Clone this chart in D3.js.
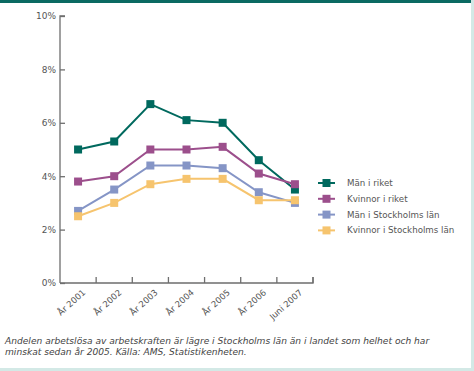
<!DOCTYPE html>
<html>
<head>
<meta charset="utf-8">
<script src="https://cdn.jsdelivr.net/npm/d3@7/dist/d3.min.js"></script>
<style>
body { margin: 0; background: #fff; }
svg { display: block; font-family: "DejaVu Sans", Verdana, sans-serif; }
</style>
</head>
<body>
<div id="chart"></div>
<script>
// data
const years = ["År 2001", "År 2002", "År 2003", "År 2004", "År 2005", "År 2006", "Juni 2007"]
const manRiket = [5.0, 5.3, 6.7, 6.1, 6.0, 4.6, 3.5]
const kvinnorRiket = [3.8, 4.0, 5.0, 5.0, 5.1, 4.1, 3.7]
const manSthlm = [2.7, 3.5, 4.4, 4.4, 4.3, 3.4, 3.0]
const kvinnorSthlm = [2.5, 3.0, 3.7, 3.9, 3.9, 3.1, 3.1]
const seriesNames = ["Män i riket", "Kvinnor i riket", "Män i Stockholms län", "Kvinnor i Stockholms län"]
const yTicks = [0, 2, 4, 6, 8, 10]
const caption = [
  "Andelen arbetslösa av arbetskraften är lägre i Stockholms län än i landet som helhet och har",
  "minskat sedan år 2005. Källa: AMS, Statistikenheten."
]

const colors = ["#00695e", "#9c4f8c", "#8595c6", "#f6c46e"]
const series = [manRiket, kvinnorRiket, manSthlm, kvinnorSthlm]

const width = 474
const height = 371
const margin = { top: 16, left: 60, right: 161, bottom: 88 }

const svg = d3.select("#chart")
  .append("svg")
    .attr("width", width)
    .attr("height", height)

// frame
svg.append("rect").attr("x", 0).attr("y", 0).attr("width", width).attr("height", 3).attr("fill", "#0b6a62")
svg.append("rect").attr("x", 471).attr("y", 0).attr("width", 3).attr("height", height).attr("fill", "#d3e9e6")
svg.append("rect").attr("x", 0).attr("y", 368).attr("width", width).attr("height", 3).attr("fill", "#d3e9e6")

const x = d3.scaleBand()
  .domain(years)
  .range([margin.left, width - margin.right])

const y = d3.scaleLinear()
  .domain([0, 10])
  .range([height - margin.bottom, margin.top])

// axes
const xAxis = d3.axisBottom(x).tickSize(6).tickFormat("")
const yAxis = d3.axisLeft(y).tickValues(yTicks).tickSize(5).tickFormat(d => d + "%")

const xAxisGroup = svg.append("g")
  .attr("transform", `translate(0, ${height - margin.bottom})`)
  .call(xAxis)
xAxisGroup.select(".domain").attr("d", `M${margin.left},0H${width - margin.right}V-6`)
xAxisGroup.selectAll(".tick line")
  .attr("y2", -6)
  .attr("transform", `translate(${x.bandwidth() / 2},0)`)

const yAxisGroup = svg.append("g")
  .attr("transform", `translate(${margin.left}, 0)`)
  .call(yAxis)
yAxisGroup.selectAll(".tick line").attr("x2", 5)
yAxisGroup.select(".domain").attr("d", `M5,${y(10)}H0V${y(0)}`)
yAxisGroup.selectAll(".tick text").attr("x", -4)

svg.selectAll(".domain, .tick line").attr("stroke", "#6e6e6e").attr("stroke-width", 1.3)
svg.selectAll(".tick text").attr("fill", "#555").attr("font-size", 9).attr("font-family", "DejaVu Sans, Verdana, sans-serif")

// rotated x labels
svg.append("g").selectAll("text")
  .data(years)
  .join("text")
    .attr("transform", d => `translate(${x(d) + x.bandwidth() / 2 + 6}, ${height - margin.bottom + 8}) rotate(-42)`)
    .attr("text-anchor", "end")
    .attr("dy", "0.35em")
    .attr("font-size", 8.6)
    .attr("fill", "#555")
    .text(d => d)

// lines
const line = d3.line()
  .x((d, i) => x(years[i]) + x.bandwidth() / 2)
  .y(d => y(d))

const lines = svg.append("g")
series.forEach((s, k) => {
  const g = lines.append("g")
  g.append("path")
    .datum(s)
    .attr("d", line)
    .attr("fill", "none")
    .attr("stroke", colors[k])
    .attr("stroke-width", 2)
  g.selectAll("rect")
    .data(s)
    .join("rect")
      .attr("x", (d, i) => x(years[i]) + x.bandwidth() / 2 - 4)
      .attr("y", d => y(d) - 4)
      .attr("width", 8)
      .attr("height", 8)
      .attr("fill", colors[k])
})

// legend
const legend = svg.append("g").attr("transform", "translate(318, 183)")
seriesNames.forEach((name, k) => {
  const row = legend.append("g").attr("transform", `translate(0, ${k * 15.8})`)
  row.append("line").attr("x1", 0).attr("x2", 17).attr("y1", 0).attr("y2", 0)
    .attr("stroke", colors[k]).attr("stroke-width", 2)
  row.append("rect").attr("x", 4.5).attr("y", -4).attr("width", 8).attr("height", 8).attr("fill", colors[k])
  row.append("text").attr("x", 29).attr("dy", "0.35em")
    .attr("font-size", 8.7).attr("fill", "#555").text(name)
})

// caption
svg.append("g").selectAll("text")
  .data(caption)
  .join("text")
    .attr("x", 5)
    .attr("y", (d, i) => 344 + i * 11)
    .attr("font-size", 9.1)
    .attr("font-style", "italic")
    .attr("fill", "#444")
    .text(d => d)
</script>
</body>
</html>
